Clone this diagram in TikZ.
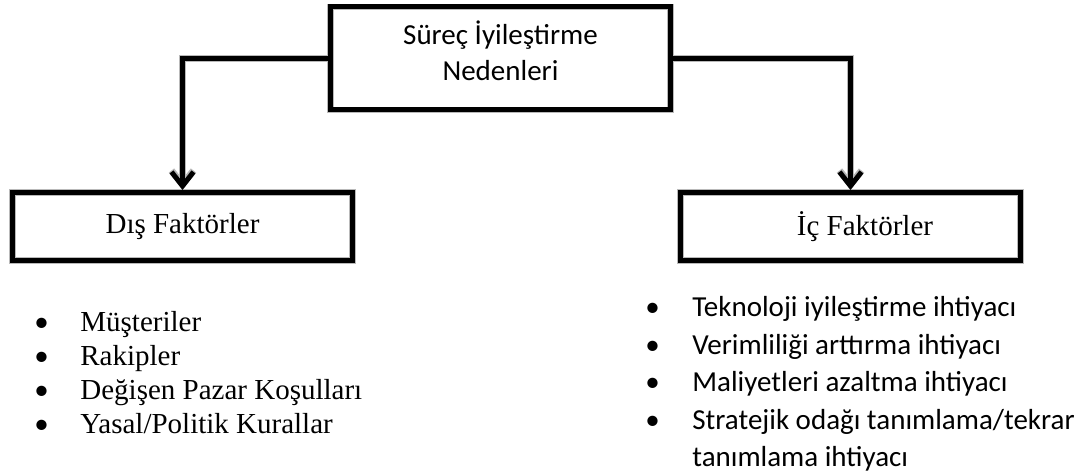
\documentclass[tikz,border=0pt]{standalone}
\usepackage{fontspec}
\setmainfont{Liberation Serif}
\newfontfamily\calibri{Carlito}
\usetikzlibrary{arrows.meta}
\newcommand{\madde}{{\calibri\textbullet}}

\begin{document}
\begin{tikzpicture}[x=0.5pt, y=-0.5pt,
			>={Straight Barb[length=7pt,width=11pt]},   %Pfeilspitzen
			thick line/.style={line width=2.5pt, preaction={draw=gray!55, line width=3.4pt}},
			kutu/.style={draw, thick line, minimum width=170pt, inner sep=0pt},
			liste/.style={anchor=base west, inner sep=0pt}]
			%Bildbereich
			\useasboundingbox (0,0) rectangle (1086,475);
			% Kaesten
			\node[kutu, minimum height=51.5pt, align=center, font=\calibri\fontsize{14.5}{18}\selectfont] (neden) at (500.5,58.5) {Süreç İyileştirme\\Nedenleri\rule[-8pt]{0pt}{8pt}};
			\node[kutu, minimum height=34pt, font=\fontsize{14.5}{17}\selectfont] (dis) at (182.5,226.5) {Dış Faktörler};
			\node[kutu, minimum height=34pt, font=\fontsize{14.5}{17}\selectfont] (ic) at (850.5,226.5) {\hspace*{14.5pt}İç Faktörler};
			% Pfeile
			\draw[thick line, ->] (neden.west) -| (dis.north);
			\draw[thick line, ->] (neden.east) -| (ic.north);
			% Listen
			\node[liste, font=\fontsize{14.5}{17}\selectfont] (dislist) at (34,332) {%
				\begin{tabular}[t]{@{}p{23pt}@{}l@{}}
					\madde & Müşteriler\\
					\madde & Rakipler\\
					\madde & Değişen Pazar Koşulları\\
					\madde & Yasal/Politik Kurallar
				\end{tabular}};
			\node[liste, font=\calibri\fontsize{14.5}{18.75}\selectfont] (iclist) at (645,317) {%
				\begin{tabular}[t]{@{}p{23.5pt}@{}l@{}}
					\madde & Teknoloji iyileştirme ihtiyacı\\
					\madde & Verimliliği arttırma ihtiyacı\\
					\madde & Maliyetleri azaltma ihtiyacı\\
					\madde & Stratejik odağı tanımlama/tekrar\\
					& tanımlama ihtiyacı
				\end{tabular}};
\end{tikzpicture}
\end{document}
